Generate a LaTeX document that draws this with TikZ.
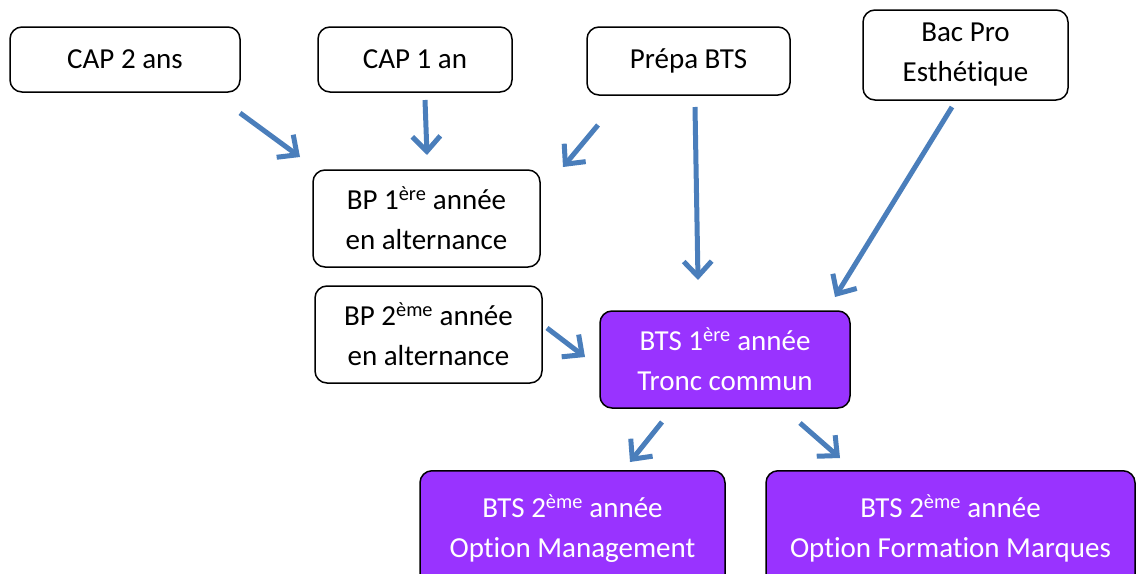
\documentclass[tikz,border=0pt]{standalone}
\usepackage{fontspec}
\setmainfont{Carlito}[Ligatures=NoCommon]
\usetikzlibrary{arrows.meta}
\definecolor{flowblue}{RGB}{74,126,187}
\definecolor{btspurple}{RGB}{153,51,255}

\begin{document}
\begin{tikzpicture}[x=1pt,y=-1pt,font=\fontsize{29}{40}\selectfont,
  box/.style={draw,line width=1.5pt,rounded corners=12pt,align=center,inner sep=0pt,fill=white},
  btsbox/.style={box,fill=btspurple,text=white},
  flow/.style={line width=5pt,flowblue,-{Straight Barb[length=15pt,width=28pt]}}]

\useasboundingbox (0,0) rectangle (1137,573);
\clip (0,0) rectangle (1137,573);

\node[box,minimum width=230,minimum height=65] (cap2) at (125,59.5) {CAP 2 ans};
\node[box,minimum width=194,minimum height=65] (cap1) at (415,59.5) {CAP 1 an};
\node[box,minimum width=203,minimum height=68] (prepa) at (688.5,61) {Prépa BTS};
\node[box,minimum width=205,minimum height=90] (bacpro) at (965.5,55) {Bac Pro\\Esthétique};
\node[box,minimum width=227,minimum height=97] (bp1) at (426.5,218.5) {BP 1\textsuperscript{ère} année\\en alternance};
\node[box,minimum width=227,minimum height=97] (bp2) at (428.5,334.5) {BP 2\textsuperscript{ème} année\\en alternance};
\node[btsbox,minimum width=250,minimum height=97] (bts1) at (725,359.5) {BTS 1\textsuperscript{ère} année\\Tronc commun};
\node[btsbox,minimum width=305,minimum height=116,anchor=north] (bts2m) at (572.5,470) {BTS 2\textsuperscript{ème} année\\Option Management};
\node[btsbox,minimum width=369,minimum height=116,anchor=north] (bts2f) at (950.5,470) {BTS 2\textsuperscript{ème} année\\Option Formation Marques};

\coordinate (a1) at (240,113);
\coordinate (a2) at (300,157);
\coordinate (b1) at (425,100);
\coordinate (b2) at (427,155);
\coordinate (c1) at (598,125);
\coordinate (c2) at (563,167);
\coordinate (d1) at (695,107);
\coordinate (d2) at (698,280);
\coordinate (e1) at (952,107);
\coordinate (e2) at (835,297);
\coordinate (f1) at (547,328);
\coordinate (f2) at (585,357);
\coordinate (g1) at (662,422);
\coordinate (g2) at (630,462);
\coordinate (h1) at (800,423);
\coordinate (h2) at (840,458);

\draw[flow] (a1) -- (a2);
\draw[flow] (b1) -- (b2);
\draw[flow] (c1) -- (c2);
\draw[flow] (d1) -- (d2);
\draw[flow] (e1) -- (e2);
\draw[flow] (f1) -- (f2);
\draw[flow] (g1) -- (g2);
\draw[flow] (h1) -- (h2);

\end{tikzpicture}
\end{document}
